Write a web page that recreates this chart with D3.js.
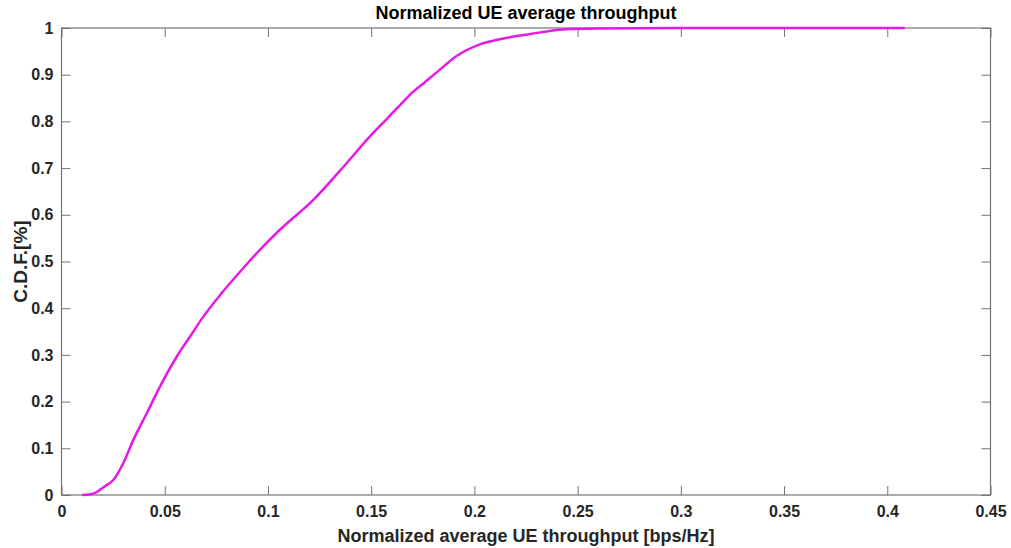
<!DOCTYPE html>
<html>
<head>
<meta charset="utf-8">
<script src="https://cdn.jsdelivr.net/npm/d3@7"></script>
<style>
  body { margin: 0; background: #fff; }
  svg { display: block; font-family: "Liberation Sans", Arial, sans-serif; }
</style>
</head>
<body>
<div id="chart"></div>
<script>
// CDF curve
const throughput = [0.010, 0.013, 0.016, 0.0186, 0.0215, 0.0251, 0.0299, 0.0348, 0.0413, 0.0477,
  0.0558, 0.0622, 0.0687, 0.0768, 0.0865, 0.0961, 0.1058, 0.1220, 0.1382, 0.1494, 0.1575,
  0.1640, 0.1700, 0.1760, 0.1820, 0.1914, 0.2027, 0.2124, 0.2270, 0.2430, 0.2593, 0.3000,
  0.3500, 0.4085];
const cdf = [0, 0.001, 0.004, 0.011, 0.02, 0.032, 0.068, 0.118, 0.175, 0.232,
  0.296, 0.339, 0.382, 0.428, 0.478, 0.525, 0.568, 0.632, 0.711, 0.768, 0.805,
  0.835, 0.862, 0.884, 0.906, 0.940, 0.965, 0.976, 0.987, 0.997, 0.999, 1.0,
  1.0, 1.0];
const xTicks = [0, 0.05, 0.1, 0.15, 0.2, 0.25, 0.3, 0.35, 0.4, 0.45];
const yTicks = [0, 0.1, 0.2, 0.3, 0.4, 0.5, 0.6, 0.7, 0.8, 0.9, 1];

const data = throughput.map((t, i) => ({ t: t, p: cdf[i] }));

const W = 1011, H = 548;
const margin = { top: 28, right: 20.5, bottom: 53, left: 61.5 };
const width = W - margin.left - margin.right;
const height = H - margin.top - margin.bottom;

const svg = d3.select("#chart").append("svg")
  .attr("width", W)
  .attr("height", H);

const g = svg.append("g")
  .attr("transform", `translate(${margin.left},${margin.top})`);

const x = d3.scaleLinear().domain([0, 0.45]).range([0, width]);
const y = d3.scaleLinear().domain([0, 1]).range([height, 0]);

const fmt = d => d === 0 ? "0" : d3.format("")(+d.toFixed(2));
const axisColor = "#737373";

function styleAxis(sel, showLabels) {
  sel.select(".domain").remove();
  sel.selectAll(".tick line").attr("stroke", axisColor);
  sel.selectAll(".tick text")
    .attr("fill", "#262626")
    .style("font-size", "16px")
    .style("font-weight", "bold")
    .style("display", showLabels ? null : "none");
}

// bottom + left axes with labels, ticks pointing inward
g.append("g")
  .attr("transform", `translate(0,${height})`)
  .call(d3.axisBottom(x).tickValues(xTicks).tickFormat(fmt).tickSizeInner(-9).tickPadding(11))
  .call(s => styleAxis(s, true));

g.append("g")
  .call(d3.axisLeft(y).tickValues(yTicks).tickFormat(fmt).tickSizeInner(-9).tickPadding(8))
  .call(s => styleAxis(s, true));

// top + right axes, ticks only
g.append("g")
  .call(d3.axisTop(x).tickValues(xTicks).tickSizeInner(-9))
  .call(s => styleAxis(s, false));

g.append("g")
  .attr("transform", `translate(${width},0)`)
  .call(d3.axisRight(y).tickValues(yTicks).tickSizeInner(-9))
  .call(s => styleAxis(s, false));

// box
g.append("rect")
  .attr("width", width)
  .attr("height", height)
  .attr("fill", "none")
  .attr("stroke", axisColor)
  .attr("stroke-width", 1.2);

const line = d3.line()
  .x(d => x(d.t))
  .y(d => y(d.p))
  .curve(d3.curveMonotoneX);

g.append("path")
  .datum(data)
  .attr("fill", "none")
  .attr("stroke", "#e619e6")
  .attr("stroke-width", 2.5)
  .attr("d", line);

// title and axis labels
svg.append("text")
  .attr("x", margin.left + width / 2)
  .attr("y", 19)
  .attr("text-anchor", "middle")
  .style("font-size", "18px")
  .style("font-weight", "bold")
  .attr("fill", "#000")
  .text("Normalized UE average throughput");

svg.append("text")
  .attr("x", margin.left + width / 2)
  .attr("y", 542)
  .attr("text-anchor", "middle")
  .style("font-size", "18px")
  .style("font-weight", "bold")
  .attr("fill", "#262626")
  .text("Normalized average UE throughput [bps/Hz]");

svg.append("text")
  .attr("transform", `translate(27,${margin.top + height / 2}) rotate(-90)`)
  .attr("text-anchor", "middle")
  .style("font-size", "19px")
  .style("font-weight", "bold")
  .attr("fill", "#262626")
  .text("C.D.F.[%]");
</script>
</body>
</html>
